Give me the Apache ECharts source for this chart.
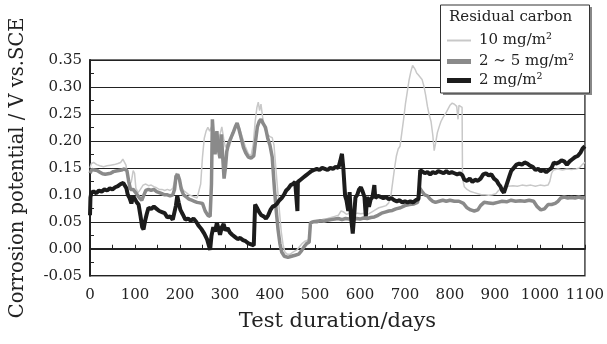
<!DOCTYPE html>
<html>
<head>
<meta charset="utf-8">
<script src="https://cdn.jsdelivr.net/npm/echarts@6/dist/echarts.min.js"></script>
<style>html,body{margin:0;padding:0;background:#fff}#c{width:607px;height:344px}</style>
</head>
<body>
<div id="c"></div>
<script>
var seriesNames = ['10 mg/m\u00b2', '2 \u223c 5 mg/m\u00b2', '2 mg/m\u00b2'];
var legendTitle = 'Residual carbon';
var xTitle = 'Test duration/days';
var yTitle = 'Corrosion potential / V vs.SCE';

var carbon10 = [[0,0.150],[3,0.158],[8,0.160],[15,0.156],[22,0.154],[30,0.152],[38,0.154],[46,0.155],[54,0.156],[62,0.158],[68,0.160],[73,0.166],[77,0.163],[80,0.155],[84,0.130],[88,0.118],[92,0.125],[96,0.145],[99,0.140],[102,0.112],[107,0.104],[112,0.110],[118,0.118],[124,0.120],[130,0.117],[136,0.118],[142,0.115],[148,0.113],[154,0.110],[160,0.110],[166,0.108],[172,0.110],[178,0.108],[184,0.112],[188,0.125],[191,0.140],[195,0.142],[199,0.130],[203,0.115],[208,0.108],[214,0.104],[220,0.100],[226,0.098],[232,0.096],[238,0.094],[242,0.095],[246,0.120],[250,0.170],[254,0.205],[258,0.218],[262,0.225],[266,0.218],[270,0.226],[274,0.214],[278,0.205],[282,0.195],[285,0.180],[289,0.212],[293,0.226],[297,0.205],[301,0.188],[306,0.196],[310,0.190],[315,0.205],[320,0.220],[326,0.232],[332,0.224],[338,0.208],[345,0.190],[352,0.176],[358,0.172],[363,0.195],[367,0.235],[371,0.262],[374,0.272],[377,0.256],[380,0.268],[384,0.242],[388,0.222],[394,0.212],[400,0.208],[405,0.206],[409,0.192],[413,0.150],[417,0.110],[421,0.070],[425,0.032],[429,0.008],[433,-0.006],[438,-0.010],[445,-0.010],[452,-0.006],[460,-0.002],[466,0.004],[472,0.010],[478,0.014],[484,0.016],[488,0.020],[490,0.050],[496,0.052],[504,0.054],[512,0.053],[520,0.055],[528,0.056],[536,0.058],[544,0.060],[552,0.062],[558,0.070],[564,0.068],[570,0.064],[578,0.066],[586,0.064],[594,0.066],[602,0.065],[610,0.066],[618,0.064],[626,0.068],[634,0.072],[642,0.076],[650,0.078],[658,0.080],[664,0.085],[669,0.100],[673,0.125],[677,0.150],[681,0.172],[685,0.185],[689,0.190],[693,0.215],[697,0.240],[701,0.268],[705,0.290],[709,0.312],[713,0.328],[717,0.340],[720,0.342],[723,0.332],[726,0.326],[730,0.322],[734,0.318],[738,0.314],[742,0.302],[746,0.285],[750,0.264],[754,0.248],[758,0.236],[762,0.210],[765,0.182],[768,0.195],[772,0.215],[776,0.226],[780,0.236],[785,0.244],[790,0.250],[795,0.258],[800,0.266],[805,0.270],[810,0.268],[815,0.264],[818,0.240],[820,0.266],[824,0.268],[827,0.262],[828,0.130],[832,0.115],[838,0.110],[846,0.106],[854,0.104],[862,0.102],[870,0.100],[878,0.100],[886,0.099],[894,0.100],[902,0.102],[908,0.108],[914,0.112],[920,0.114],[930,0.116],[940,0.117],[950,0.116],[960,0.118],[970,0.117],[980,0.118],[990,0.116],[1000,0.118],[1010,0.117],[1018,0.118],[1022,0.125],[1026,0.140],[1030,0.146],[1040,0.148],[1050,0.146],[1060,0.148],[1070,0.147],[1080,0.148],[1088,0.150],[1094,0.156],[1100,0.160]];

var carbon2to5 = [[0,0.140],[4,0.147],[10,0.146],[16,0.145],[22,0.142],[28,0.139],[34,0.138],[40,0.139],[46,0.140],[52,0.143],[58,0.144],[64,0.145],[70,0.146],[76,0.148],[82,0.145],[86,0.125],[90,0.110],[96,0.110],[100,0.108],[105,0.100],[110,0.094],[115,0.090],[119,0.098],[124,0.108],[130,0.110],[136,0.108],[142,0.110],[148,0.106],[154,0.104],[160,0.102],[166,0.100],[172,0.100],[178,0.098],[184,0.100],[188,0.110],[191,0.134],[195,0.138],[199,0.128],[203,0.110],[208,0.100],[214,0.096],[220,0.092],[226,0.090],[232,0.088],[238,0.086],[244,0.085],[250,0.084],[256,0.070],[262,0.062],[267,0.060],[270,0.120],[272,0.240],[275,0.200],[278,0.175],[282,0.218],[285,0.185],[289,0.168],[292,0.212],[295,0.170],[298,0.130],[301,0.150],[304,0.180],[308,0.195],[313,0.205],[318,0.215],[323,0.226],[327,0.233],[331,0.222],[336,0.205],[341,0.188],[346,0.178],[352,0.170],[358,0.168],[364,0.172],[368,0.200],[372,0.226],[376,0.236],[380,0.240],[385,0.232],[390,0.225],[395,0.205],[400,0.192],[405,0.170],[410,0.110],[414,0.070],[418,0.035],[422,0.010],[426,-0.006],[432,-0.014],[440,-0.016],[448,-0.014],[456,-0.012],[464,-0.010],[470,-0.004],[476,0.004],[482,0.010],[487,0.012],[490,0.048],[496,0.050],[504,0.050],[512,0.052],[520,0.051],[528,0.053],[536,0.054],[544,0.055],[552,0.056],[560,0.054],[568,0.056],[576,0.055],[584,0.054],[592,0.056],[600,0.055],[608,0.057],[616,0.056],[624,0.058],[632,0.059],[640,0.062],[648,0.066],[656,0.068],[664,0.070],[672,0.071],[680,0.074],[690,0.076],[700,0.080],[710,0.082],[720,0.083],[728,0.086],[733,0.112],[738,0.106],[744,0.100],[750,0.098],[756,0.092],[762,0.088],[768,0.086],[776,0.088],[784,0.090],[792,0.088],[800,0.090],[810,0.088],[820,0.088],[830,0.084],[838,0.076],[846,0.072],[854,0.070],[862,0.072],[868,0.080],[876,0.086],[886,0.085],[896,0.084],[906,0.086],[916,0.088],[926,0.087],[936,0.090],[946,0.088],[956,0.089],[966,0.088],[976,0.090],[986,0.088],[994,0.078],[1002,0.072],[1010,0.074],[1018,0.082],[1026,0.082],[1034,0.084],[1040,0.088],[1046,0.094],[1054,0.096],[1062,0.094],[1070,0.095],[1078,0.094],[1086,0.096],[1094,0.094],[1100,0.095]];

var carbon2 = [[0,0.062],[1,0.095],[3,0.104],[8,0.106],[14,0.103],[20,0.108],[26,0.106],[32,0.110],[38,0.108],[44,0.112],[50,0.110],[56,0.114],[62,0.116],[68,0.120],[74,0.122],[78,0.119],[81,0.112],[84,0.100],[88,0.094],[92,0.084],[96,0.098],[100,0.096],[104,0.086],[108,0.082],[112,0.062],[116,0.040],[119,0.036],[122,0.050],[126,0.064],[130,0.076],[136,0.074],[142,0.078],[148,0.074],[154,0.070],[160,0.068],[166,0.066],[172,0.058],[178,0.060],[184,0.054],[188,0.056],[191,0.080],[194,0.098],[197,0.086],[201,0.072],[206,0.064],[212,0.054],[218,0.056],[224,0.052],[230,0.056],[236,0.050],[242,0.042],[248,0.036],[254,0.028],[260,0.018],[264,0.020],[267,-0.002],[270,0.024],[274,0.040],[278,0.032],[282,0.048],[286,0.036],[289,0.026],[293,0.040],[297,0.046],[301,0.034],[306,0.038],[311,0.030],[316,0.026],[322,0.022],[328,0.018],[334,0.020],[340,0.016],[346,0.014],[352,0.010],[358,0.008],[364,0.006],[367,0.082],[371,0.076],[376,0.068],[381,0.062],[386,0.060],[391,0.056],[396,0.062],[401,0.072],[406,0.078],[411,0.080],[416,0.084],[421,0.090],[426,0.094],[431,0.100],[436,0.108],[441,0.112],[446,0.118],[451,0.120],[456,0.124],[460,0.126],[461,0.070],[462,0.124],[468,0.128],[474,0.132],[480,0.136],[486,0.140],[492,0.144],[498,0.146],[504,0.148],[510,0.146],[516,0.150],[522,0.148],[528,0.146],[534,0.150],[540,0.148],[546,0.152],[552,0.150],[556,0.162],[560,0.176],[563,0.150],[567,0.098],[570,0.090],[574,0.070],[577,0.105],[580,0.060],[584,0.028],[587,0.060],[590,0.095],[594,0.100],[598,0.110],[602,0.114],[606,0.106],[610,0.096],[613,0.060],[616,0.096],[620,0.078],[624,0.092],[628,0.096],[632,0.118],[634,0.094],[640,0.098],[646,0.096],[652,0.094],[658,0.096],[664,0.092],[670,0.094],[676,0.090],[682,0.088],[688,0.090],[694,0.086],[700,0.088],[706,0.086],[712,0.088],[718,0.086],[724,0.090],[730,0.092],[734,0.146],[738,0.148],[744,0.140],[750,0.142],[756,0.138],[762,0.142],[768,0.140],[774,0.144],[780,0.142],[786,0.140],[792,0.144],[798,0.140],[804,0.142],[810,0.140],[816,0.138],[822,0.140],[828,0.136],[832,0.128],[838,0.126],[844,0.130],[850,0.124],[856,0.128],[862,0.126],[868,0.130],[874,0.138],[880,0.140],[886,0.136],[892,0.138],[898,0.130],[904,0.126],[908,0.120],[912,0.116],[916,0.108],[920,0.104],[924,0.114],[928,0.124],[932,0.134],[936,0.144],[942,0.150],[948,0.156],[954,0.158],[960,0.156],[966,0.160],[972,0.158],[978,0.154],[984,0.152],[990,0.146],[996,0.148],[1002,0.144],[1008,0.146],[1014,0.142],[1020,0.146],[1026,0.150],[1031,0.160],[1036,0.158],[1042,0.160],[1048,0.164],[1054,0.162],[1060,0.156],[1066,0.162],[1072,0.166],[1078,0.170],[1084,0.172],[1090,0.178],[1095,0.186],[1100,0.190]];

var xMin = 0, xMax = 1100, xStep = 100;
var yMin = -0.05, yMax = 0.35, yStep = 0.05;

var FONT = 'DejaVu Serif';
var colors = ['#c8c8c8', '#8a8a8a', '#1c1c1c'];
var widths = [1.5, 3.5, 4];
var seriesData = [carbon10, carbon2to5, carbon2];

var chart = echarts.init(document.getElementById('c'), null, {renderer: 'canvas'});

function mkLegend(i, top, h) {
  return {
    show: true, data: [{name: seriesNames[i], icon: 'rect'}],
    left: 447, top: top, orient: 'horizontal', padding: 0,
    itemWidth: 24, itemHeight: h, itemGap: 0, z: 30, selectedMode: false,
    textStyle: {fontFamily: FONT, fontSize: 15, color: '#222', padding: [0,0,0,3], lineHeight: 17}
  };
}

var option = {
  animation: false,
  backgroundColor: '#fff',
  grid: {left: 89.7, right: 16.3, top: 60, bottom: 68.3, show: true, borderColor: '#444', borderWidth: 1.5, backgroundColor: 'transparent'},
  xAxis: {
    type: 'value', min: xMin, max: xMax, interval: xStep,
    name: xTitle, nameLocation: 'middle', nameGap: 35,
    nameTextStyle: {fontFamily: FONT, fontSize: 21, color: '#222'},
    axisLine: {show: true, lineStyle: {color: '#222', width: 2}},
    axisTick: {show: true, inside: true, length: 4, lineStyle: {color: '#222'}},
    minorTick: {show: true, splitNumber: 2, length: 4, lineStyle: {color: '#222'}},
    axisLabel: {fontFamily: FONT, fontSize: 15, color: '#222', margin: 12,
      formatter: function (v) { return String(v); }},
    splitLine: {show: false}
  },
  yAxis: {
    type: 'value', min: yMin, max: yMax, interval: yStep,
    name: yTitle, nameLocation: 'middle', nameGap: 62,
    nameTextStyle: {fontFamily: FONT, fontSize: 19.5, color: '#222'},
    axisLine: {show: true, lineStyle: {color: '#222', width: 2}},
    axisTick: {show: true, inside: true, length: 4, lineStyle: {color: '#222'}},
    minorTick: {show: true, splitNumber: 2, length: 4, lineStyle: {color: '#222'}},
    axisLabel: {fontFamily: FONT, fontSize: 15, color: '#222', margin: 8,
      formatter: function (v) { return v.toFixed(2); }},
    splitLine: {show: true, lineStyle: {color: '#222', width: 1}}
  },
  legend: [mkLegend(0, 32, 2), mkLegend(1, 53, 5), mkLegend(2, 72, 5)],
  graphic: [
    {type: 'rect', z: 20, shape: {x: 443, y: 7, width: 149, height: 88}, style: {fill: '#888'}},
    {type: 'rect', z: 21, shape: {x: 440.5, y: 5, width: 149, height: 88}, style: {fill: '#fff', stroke: '#333', lineWidth: 1}},
    {type: 'text', z: 31, x: 449, y: 10, style: {text: legendTitle, font: '15px "DejaVu Serif"', fill: '#222'}}
  ],
  series: seriesData.map(function (d, i) {
    return {
      name: seriesNames[i], type: 'line', data: d, showSymbol: false, symbol: 'none',
      lineStyle: {color: colors[i], width: widths[i]}, itemStyle: {color: colors[i]},
      z: 2 + i
    };
  })
};
chart.setOption(option);
</script>
</body>
</html>
